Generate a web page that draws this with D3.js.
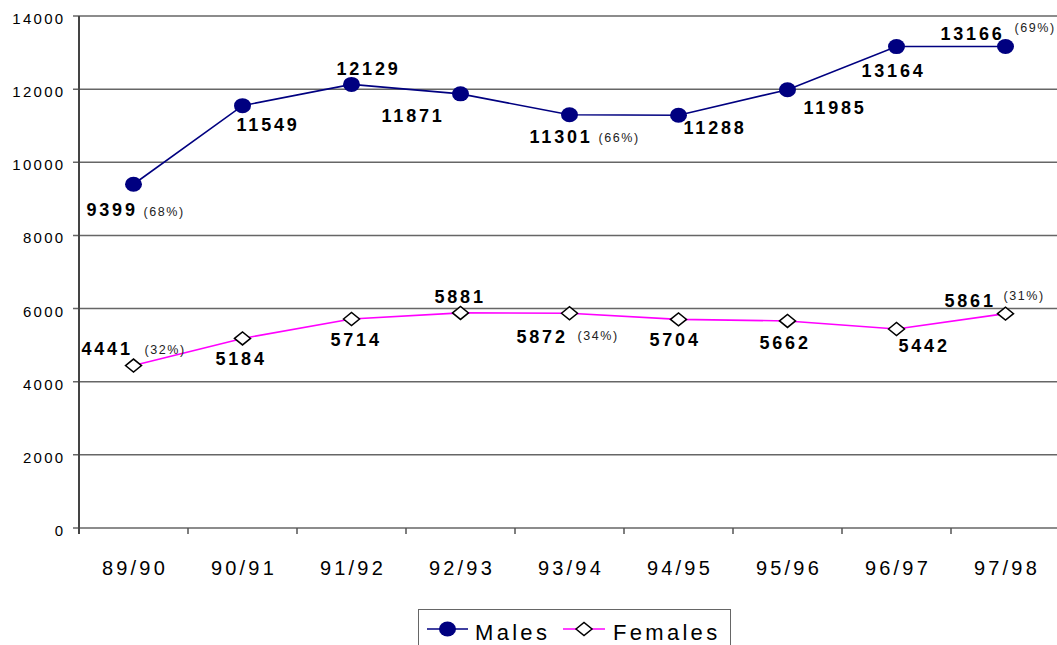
<!DOCTYPE html>
<html>
<head>
<meta charset="utf-8">
<script src="https://cdn.jsdelivr.net/npm/d3@7/dist/d3.min.js"></script>
<style>
body { margin: 0; background: #fff; }
svg { display: block; font-family: "Liberation Sans", Arial, sans-serif; }
</style>
</head>
<body>
<div id="chart"></div>
<script>
var years = ['89/90', '90/91', '91/92', '92/93', '93/94', '94/95', '95/96', '96/97', '97/98'];
var males = [9399, 11549, 12129, 11871, 11301, 11288, 11985, 13164, 13166];
var females = [4441, 5184, 5714, 5881, 5872, 5704, 5662, 5442, 5861];
var malesPct = [68, null, null, null, 66, null, null, null, 69];
var femalesPct = [32, null, null, null, 34, null, null, null, 31];
var yTicks = [0, 2000, 4000, 6000, 8000, 10000, 12000, 14000];

// label placement relative to the point [dx, dy]
var maleLabelPos = [[-47, 32], [-6, 25], [-15, -9], [-79, 28], [-40, 28], [5, 19], [16, 24], [-35, 30], [-65, -7]];
var femaleLabelPos = [[-52, -11], [-27, 27], [-21, 27], [-26, -10], [-53, 30], [-29, 27], [-28, 28], [2, 23], [-61, -7]];
var malePctPos = [[10, 32], null, null, null, [29, 27], null, null, null, [9, -15]];
var femalePctPos = [[11, -12], null, null, null, [8, 27], null, null, null, [-2, -14]];

var width = 1057, height = 645;
var margin = {left: 79, right: 1060, top: 16, bottom: 528};

var svg = d3.select('#chart')
.append('svg')
.attr('width', width)
.attr('height', height);

var x = d3.scalePoint()
.domain(years)
.range([margin.left, margin.right])
.padding(0.5);

var y = d3.scaleLinear()
.domain([0, 14000])
.range([margin.bottom, margin.top]);

// grid + y axis
svg.append('g')
.attr('class', 'grid')
.selectAll('line')
.data(yTicks)
.enter()
.append('line')
.attr('x1', margin.left - 6)
.attr('x2', margin.right)
.attr('y1', function(d){ return y(d); })
.attr('y2', function(d){ return y(d); })
.attr('stroke', '#666')
.attr('stroke-width', 1.5);

svg.append('g')
.selectAll('text')
.data(yTicks)
.enter()
.append('text')
.attr('x', 65.5)
.attr('y', function(d){ return y(d) + 8; })
.attr('text-anchor', 'end')
.style('font-size', '15px')
.style('letter-spacing', '2.3px')
.attr('fill', '#000')
.text(function(d){ return d; });

svg.append('line')
.attr('x1', margin.left)
.attr('x2', margin.left)
.attr('y1', margin.top)
.attr('y2', margin.bottom + 6)
.attr('stroke', '#444')
.attr('stroke-width', 2);

// x ticks between categories
var step = x.step();
svg.append('g')
.selectAll('line')
.data(years)
.enter()
.append('line')
.attr('x1', function(d){ return x(d) + step / 2; })
.attr('x2', function(d){ return x(d) + step / 2; })
.attr('y1', margin.bottom)
.attr('y2', margin.bottom + 6)
.attr('stroke', '#555')
.attr('stroke-width', 1.5);

svg.append('g')
.selectAll('text')
.data(years)
.enter()
.append('text')
.attr('x', function(d){ return x(d) + 1.5; })
.attr('y', 575)
.attr('text-anchor', 'middle')
.style('font-size', '20px')
.style('letter-spacing', '3.2px')
.attr('fill', '#000')
.text(function(d){ return d; });

// lines
var line = d3.line()
.x(function(d, i){ return x(years[i]); })
.y(function(d){ return y(d); });

svg.append('path')
.attr('d', line(males))
.attr('fill', 'none')
.attr('stroke', '#000080')
.attr('stroke-width', 1.6);

svg.append('path')
.attr('d', line(females))
.attr('fill', 'none')
.attr('stroke', '#ff00ff')
.attr('stroke-width', 1.6);

// markers
svg.append('g')
.selectAll('ellipse')
.data(males)
.enter()
.append('ellipse')
.attr('cx', function(d, i){ return x(years[i]); })
.attr('cy', function(d){ return y(d); })
.attr('rx', 8.5)
.attr('ry', 7.5)
.attr('fill', '#000080');

var diamond = function(cx, cy){
    return 'M' + (cx - 8) + ',' + cy + 'L' + cx + ',' + (cy - 6.5) +
        'L' + (cx + 8) + ',' + cy + 'L' + cx + ',' + (cy + 6.5) + 'Z';
};

svg.append('g')
.selectAll('path')
.data(females)
.enter()
.append('path')
.attr('d', function(d, i){ return diamond(x(years[i]), y(d)); })
.attr('fill', '#fff')
.attr('stroke', '#000')
.attr('stroke-width', 1.5);

// value labels
function addLabels(values, pos, pcts, pctPos){
    var g = svg.append('g');
    g.selectAll('text.val')
    .data(values)
    .enter()
    .append('text')
    .attr('class', 'val')
    .attr('x', function(d, i){ return x(years[i]) + pos[i][0]; })
    .attr('y', function(d, i){ return y(d) + pos[i][1]; })
    .style('font-size', '18px')
    .style('font-weight', 'bold')
    .style('letter-spacing', '2.8px')
    .attr('fill', '#000')
    .text(function(d){ return d; });

    values.forEach(function(d, i){
        if(pcts[i] == null) return;
        g.append('text')
        .attr('x', x(years[i]) + pctPos[i][0])
        .attr('y', y(d) + pctPos[i][1])
        .style('font-size', '12.5px')
        .style('letter-spacing', '1.6px')
        .attr('fill', '#222')
        .text('(' + pcts[i] + '%)');
    });
}
addLabels(males, maleLabelPos, malesPct, malePctPos);
addLabels(females, femaleLabelPos, femalesPct, femalePctPos);

// legend
var legend = svg.append('g')
.attr('class', 'legend');

legend.append('rect')
.attr('x', 418.5)
.attr('y', 609.5)
.attr('width', 312)
.attr('height', 50)
.attr('fill', '#fff')
.attr('stroke', '#666')
.attr('stroke-width', 1);

legend.append('line')
.attr('x1', 427).attr('x2', 468)
.attr('y1', 629).attr('y2', 629)
.attr('stroke', '#000080')
.attr('stroke-width', 1.6);

legend.append('ellipse')
.attr('cx', 447.5).attr('cy', 629)
.attr('rx', 8.5).attr('ry', 7.5)
.attr('fill', '#000080');

legend.append('text')
.attr('x', 475)
.attr('y', 640)
.style('font-size', '22px')
.style('letter-spacing', '3.3px')
.attr('fill', '#000')
.text('Males');

legend.append('line')
.attr('x1', 563).attr('x2', 605)
.attr('y1', 629).attr('y2', 629)
.attr('stroke', '#ff00ff')
.attr('stroke-width', 1.6);

legend.append('path')
.attr('d', diamond(584, 629))
.attr('fill', '#fff')
.attr('stroke', '#000')
.attr('stroke-width', 1.5);

legend.append('text')
.attr('x', 613)
.attr('y', 640)
.style('font-size', '22px')
.style('letter-spacing', '3.3px')
.attr('fill', '#000')
.text('Females');
</script>
</body>
</html>
